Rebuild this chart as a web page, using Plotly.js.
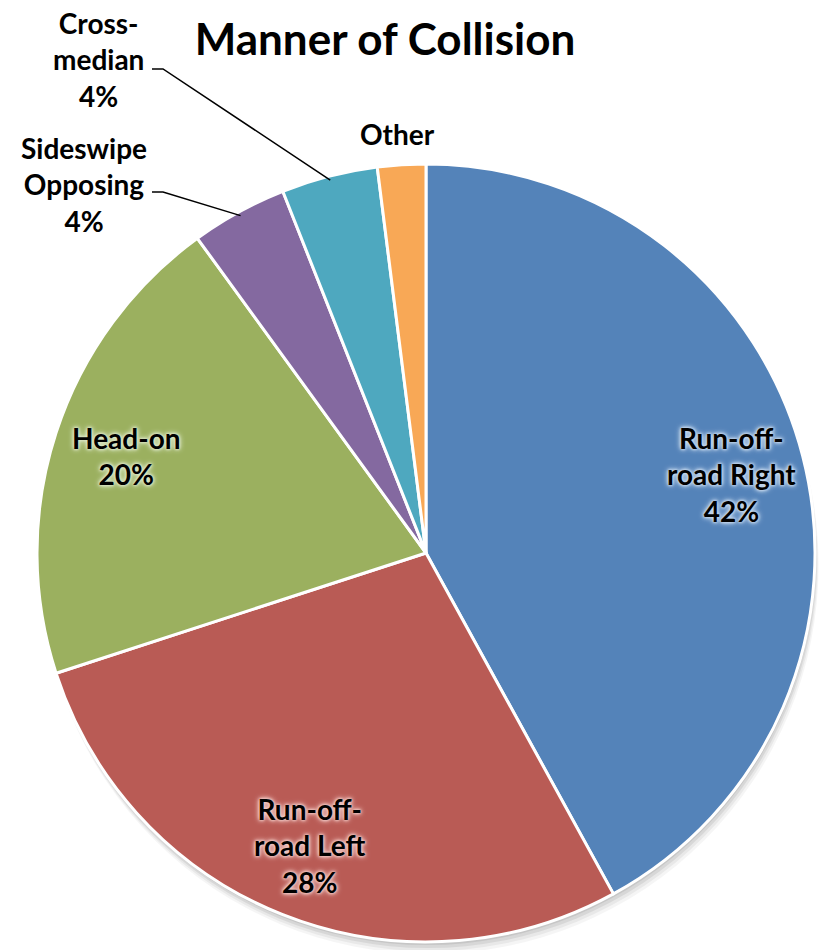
<!DOCTYPE html>
<html>
<head>
<meta charset="utf-8">
<script src="https://cdn.plot.ly/plotly-3.0.1.min.js"></script>
<style>html,body{margin:0;padding:0;background:#fff;}#chart{width:821px;height:950px;}</style>
</head>
<body>
<div id="chart"></div>
<script>
// ---- data ----
const categories = ['Run-off-road Right', 'Run-off-road Left', 'Head-on', 'Sideswipe Opposing', 'Cross-median', 'Other'];
const shares = [42, 28, 20, 4, 4, 2];
const labelLines = ['Run-off-<br>road Right', 'Run-off-<br>road Left', 'Head-on', 'Sideswipe<br>Opposing', 'Cross-<br>median', 'Other'];
const showPercent = [true, true, true, true, true, false];
const sliceColors = ['#5483B9', '#B95B55', '#9BB05F', '#8469A0', '#4EA8BF', '#F8A856'];
const glowColors = ['#c9dbef', '#f2cbc7', '#dde8c9', '#ddd3ea', '#cfeaf2', '#fde2c7'];

// ---- geometry (layout) ----
const W = 821, H = 950;
const CX = 426, CY = 553, R = 389;
const px = x => x / W;
const py = y => 1 - y / H;

const total = shares.reduce((a, b) => a + b, 0);
const pctText = shares.map(v => Math.round(v / total * 100) + '%');
// mid-angle of each slice (clockwise from 12 o'clock), in radians
let cum = 0;
const midAngles = shares.map(v => { const m = (cum + v / 2) / total * 2 * Math.PI; cum += v; return m; });
const polar = (ang, r) => [CX + r * Math.sin(ang), CY - r * Math.cos(ang)];

const fontFam = "Lato, 'Open Sans', 'DejaVu Sans', sans-serif";
const glow = c => `0 0 3px ${c}, 0 0 3px ${c}, 0 0 5px ${c}, 0 0 6px ${c}`;

const annotations = [];
const shapes = [];

// inside labels for large slices
[0, 1, 2].forEach(i => {
  const [x, y] = polar(midAngles[i], 0.81 * R);
  annotations.push({
    xref: 'paper', yref: 'paper', x: px(x), y: py(y), xanchor: 'center', yanchor: 'middle',
    showarrow: false, align: 'center',
    text: labelLines[i] + (showPercent[i] ? '<br>' + pctText[i] : ''),
    font: {family: fontFam, size: 28, weight: 700, color: '#000', shadow: glow(glowColors[i])}
  });
});

// outside labels for small slices (text blocks + leader lines)
const outside = [
  {i: 3, tx: 84, ty: 185, lineStart: [152, 192], knee: [163, 192]},
  {i: 4, tx: 98, ty: 60, lineStart: [152, 69], knee: [163, 69]},
  {i: 5, tx: 397, ty: 134}
];
outside.forEach(o => {
  annotations.push({
    xref: 'paper', yref: 'paper', x: px(o.tx), y: py(o.ty), xanchor: 'center', yanchor: 'middle',
    showarrow: false, align: 'center',
    text: labelLines[o.i] + (showPercent[o.i] ? '<br>' + pctText[o.i] : ''),
    font: {family: fontFam, size: 28, weight: 700, color: '#000'}
  });
  if (o.lineStart) {
    const [ex, ey] = polar(midAngles[o.i], R - 4);
    shapes.push({
      type: 'path', xref: 'paper', yref: 'paper', layer: 'above',
      path: `M ${px(o.lineStart[0])} ${py(o.lineStart[1])} L ${px(o.knee[0])} ${py(o.knee[1])} L ${px(ex)} ${py(ey)}`,
      line: {color: '#000', width: 1.5}
    });
  }
});

// soft drop shadow under the pie
[[12, 0.04], [9, 0.05], [6, 0.07], [3, 0.08]].forEach(([off, op]) => {
  shapes.push({
    type: 'circle', xref: 'paper', yref: 'paper', layer: 'below',
    x0: px(CX - R + off * 0.3), x1: px(CX + R + off * 0.3),
    y0: py(CY - R + off), y1: py(CY + R + off),
    fillcolor: `rgba(0,0,0,${op})`, line: {width: 0}
  });
});

const trace = {
  type: 'pie',
  labels: categories,
  values: shares,
  sort: false,
  direction: 'clockwise',
  rotation: 0,
  textinfo: 'none',
  hoverinfo: 'label+percent',
  marker: {colors: sliceColors, line: {color: '#ffffff', width: 3}},
  domain: {x: [px(CX - R), px(CX + R)], y: [py(CY + R), py(CY - R)]}
};

const layout = {
  width: W, height: H,
  margin: {l: 0, r: 0, t: 0, b: 0},
  paper_bgcolor: '#ffffff',
  showlegend: false,
  title: {
    text: 'Manner of Collision',
    x: px(385), xanchor: 'center', y: py(40), yanchor: 'middle',
    font: {family: fontFam, size: 44, weight: 700, color: '#000'}
  },
  annotations: annotations,
  shapes: shapes
};

Plotly.newPlot('chart', [trace], layout, {displayModeBar: false, staticPlot: true});
</script>
</body>
</html>
